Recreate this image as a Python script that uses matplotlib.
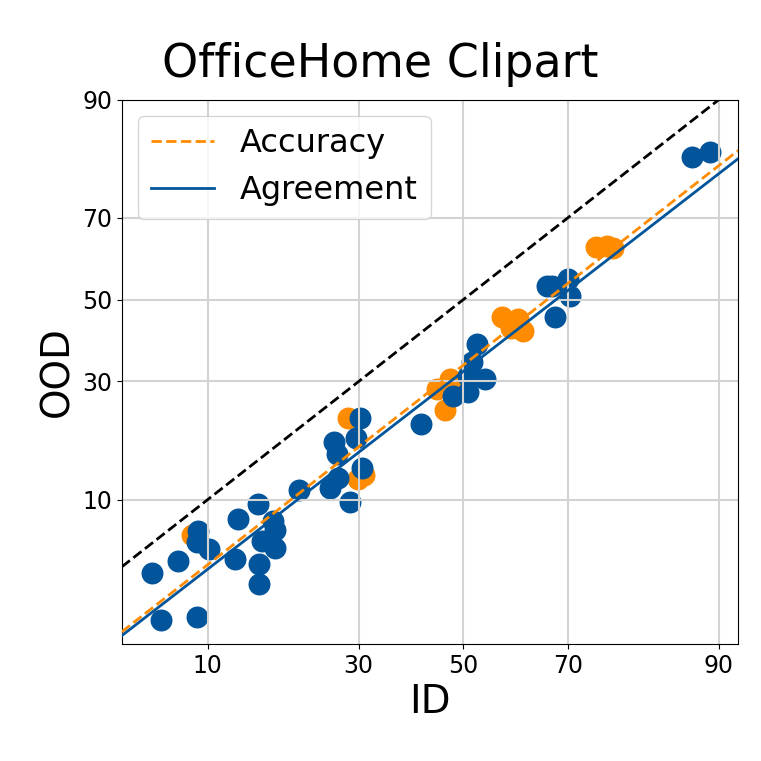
import numpy as np
import matplotlib
matplotlib.use('Agg')
import matplotlib.pyplot as plt
from matplotlib.ticker import FixedLocator, NullLocator
from statistics import NormalDist

# accuracy (ID, OOD) in %
acc_id = [8.7, 28.1, 29.9, 30.9, 46.3, 44.7, 47.3, 49.3, 57.8, 60.9, 61.7, 59.4, 74.8, 76.5, 77.3]
acc_ood = [6.6, 22.4, 12.5, 13.0, 23.9, 28.3, 30.5, 29.8, 45.5, 45.0, 42.0, 42.7, 63.2, 63.4, 62.9]

# agreement (ID, OOD) in %
agr_id = [5.9, 7.6, 6.5, 9.1, 9.2, 9.1, 10.1, 12.6, 12.9, 15.2, 17.0, 17.3, 15.7, 17.3,
          15.3, 15.3, 20.5, 25.2, 26.5, 28.5, 30.5, 26.3, 25.8, 29.5, 30.2, 41.6, 47.9,
          50.9, 54.3, 50.9, 51.7, 52.7, 67.7, 67.1, 66.2, 70.0, 70.3, 87.4, 89.2]
agr_ood = [4.0, 4.7, 2.0, 2.1, 6.9, 6.0, 5.5, 4.8, 8.0, 9.5, 7.8, 7.0, 6.1, 5.6,
           4.5, 3.4, 11.1, 11.4, 12.7, 9.7, 14.1, 16.1, 18.0, 18.7, 22.5, 21.2, 26.8,
           27.6, 30.5, 31.2, 34.4, 38.8, 45.5, 53.4, 53.4, 55.2, 50.9, 82.0, 82.8]

# linear fits in probit space: probit(ood) = slope * probit(id) + bias
acc_fit = (0.998, -0.420)
agr_fit = (0.989, -0.460)

ticks = [10, 30, 50, 70, 90]

ORANGE = '#FF8C00'
BLUE = '#02559A'

_nd = NormalDist()
_ppf = np.vectorize(_nd.inv_cdf, otypes=[float])
_cdf = np.vectorize(_nd.cdf, otypes=[float])


def probit(v):
    v = np.asarray(v, dtype=float)
    p = np.clip(np.nan_to_num(v / 100.0, nan=0.5), 1e-9, 1 - 1e-9)
    return _ppf(p)


def inv_probit(z):
    z = np.asarray(z, dtype=float)
    return 100.0 * _cdf(np.nan_to_num(z, nan=0.0))


fig = plt.figure(figsize=(7.61, 7.61), dpi=100)
ax = fig.add_axes([0.160, 0.154, 0.810, 0.715])
ax.set_xscale('function', functions=(probit, inv_probit))
ax.set_yscale('function', functions=(probit, inv_probit))

ax.scatter(acc_id, acc_ood, s=250, color=ORANGE, zorder=1, linewidths=0)
ax.scatter(agr_id, agr_ood, s=250, color=BLUE, zorder=1, linewidths=0)

xmin, xmax = 4.34, 91.6
xs = inv_probit(np.linspace(probit(xmin), probit(xmax), 200))
ax.plot(xs, xs, '--', color='black', lw=2, zorder=3)
ax.plot(xs, inv_probit(acc_fit[0] * probit(xs) + acc_fit[1]), '--', color=ORANGE,
        lw=2, label='Accuracy', zorder=3)
ax.plot(xs, inv_probit(agr_fit[0] * probit(xs) + agr_fit[1]), '-', color=BLUE,
        lw=2, label='Agreement', zorder=3)

ax.set_xlim(xmin, xmax)
ax.set_ylim(1.37, 90)
ax.xaxis.set_major_locator(FixedLocator(ticks))
ax.yaxis.set_major_locator(FixedLocator(ticks))
ax.xaxis.set_minor_locator(NullLocator())
ax.yaxis.set_minor_locator(NullLocator())
ax.set_xticklabels([str(t) for t in ticks])
ax.set_yticklabels([str(t) for t in ticks])
ax.tick_params(labelsize=17)
ax.grid(True, color='#d3d3d3', lw=1.5)

ax.set_xlabel('ID', fontsize=28)
ax.set_ylabel('OOD', fontsize=28)
ax.set_title('OfficeHome Clipart', fontsize=33, pad=16, x=0.419)
ax.legend(loc='upper left', fontsize=23)

fig.savefig('out.png', dpi=100)
